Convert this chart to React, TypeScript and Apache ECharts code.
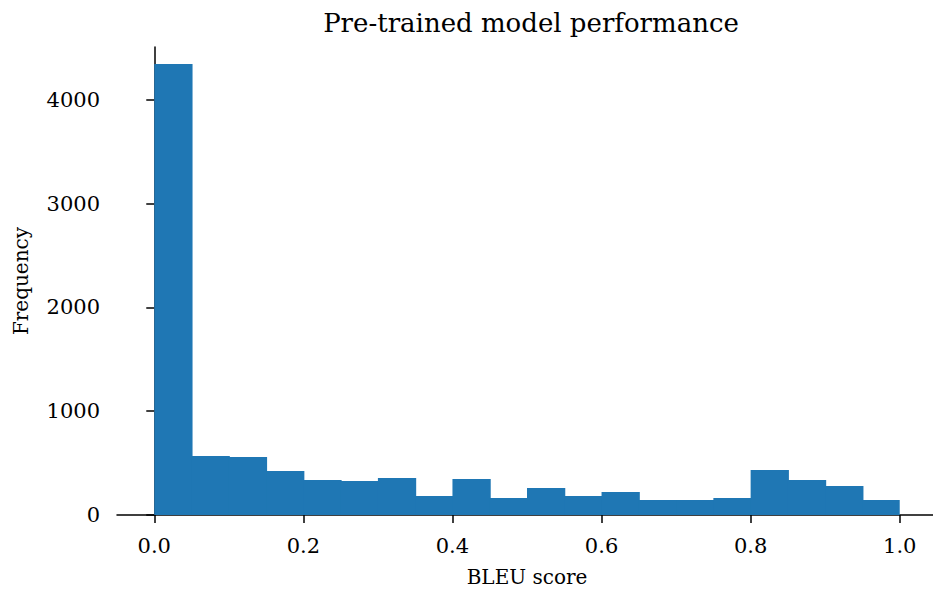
import React, { useEffect, useRef } from "react";
import * as echarts from "echarts";

const binEdges = [0, 0.05, 0.1, 0.15, 0.2, 0.25, 0.3, 0.35, 0.4, 0.45, 0.5, 0.55, 0.6, 0.65, 0.7, 0.75, 0.8, 0.85, 0.9, 0.95, 1.0];
const frequencies = [4347, 569, 559, 424, 337, 328, 357, 183, 347, 164, 260, 183, 222, 145, 145, 164, 434, 337, 280, 145];
const xTicks = [0, 0.2, 0.4, 0.6, 0.8, 1.0];

const FONT = "DejaVu Serif";

export default function App() {
  const ref = useRef<HTMLDivElement>(null);
  useEffect(() => {
    if (!ref.current) return;
    const chart = echarts.init(ref.current, null, { renderer: "svg" });
    const data = frequencies.map((v, i) => [binEdges[i], binEdges[i + 1], v]);
    const last = data.length - 1;
    chart.setOption({
      animation: false,
      title: {
        text: "Pre-trained model performance",
        left: 526,
        textAlign: "center",
        top: 5,
        textStyle: { fontFamily: FONT, fontSize: 26, fontWeight: "normal", color: "#000" },
      },
      grid: { left: 117, right: -4, top: 47, bottom: 75, containLabel: false, outerBoundsMode: "none" },
      xAxis: {
        type: "value",
        min: -0.05,
        max: 1.05,
        name: "BLEU score",
        nameLocation: "middle",
        nameGap: 52,
        nameTextStyle: { fontFamily: FONT, fontSize: 20, color: "#000", padding: [0, 0, 0, 0] },
        axisLine: { show: true, lineStyle: { color: "#000", width: 1.5 } },
        axisTick: { show: true, length: 8, lineStyle: { color: "#000", width: 1.5 }, customValues: xTicks },
        axisLabel: {
          customValues: xTicks,
          formatter: (v: number) => v.toFixed(1),
          fontFamily: FONT,
          fontSize: 21,
          color: "#000",
          margin: 20,
        },
        splitLine: { show: false },
      },
      yAxis: {
        type: "value",
        min: 0,
        max: 4510,
        interval: 1000,
        name: "Frequency",
        nameLocation: "middle",
        nameGap: 86,
        nameRotate: 90,
        nameTextStyle: { fontFamily: FONT, fontSize: 20, color: "#000" },
        axisLine: { show: true, lineStyle: { color: "#000", width: 1.5 } },
        axisTick: { show: true, length: 8, lineStyle: { color: "#000", width: 1.5 } },
        axisLabel: {
          fontFamily: FONT,
          fontSize: 21,
          color: "#000",
          margin: 17,
          showMaxLabel: false,
          formatter: (v: number) => String(v),
        },
        splitLine: { show: false },
      },
      series: [
        {
          type: "custom",
          data,
          encode: { x: [0, 1], y: 2 },
          renderItem: (params: any, api: any) => {
            const p0 = api.coord([api.value(0), api.value(2)]);
            const p1 = api.coord([api.value(1), 0]);
            const extra = params.dataIndex === last ? 0 : 1;
            return {
              type: "rect",
              shape: { x: p0[0], y: p0[1], width: p1[0] - p0[0] + extra, height: p1[1] - p0[1] },
              style: { fill: "#1f77b4" },
            };
          },
          z: 1,
        },
      ],
    });
    return () => chart.dispose();
  }, []);
  return <div ref={ref} style={{ position: "absolute", left: 0, top: 0, width: 933, height: 590 }} />;
}
